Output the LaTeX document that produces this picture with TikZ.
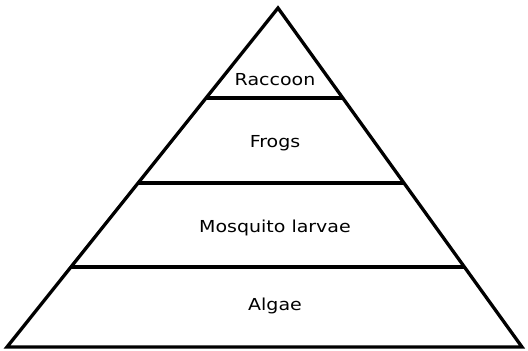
\documentclass[tikz,border=0pt]{standalone}
\usepackage{fontspec}
\setmainfont{DejaVu Sans}
\usetikzlibrary{calc}
\begin{document}
\begin{tikzpicture}[x=1pt,y=-1pt]
                    \tikzset{
                        level/.style={font=\fontsize{16.5}{19}\selectfont, inner sep=0pt, xscale=1.15, transform shape},side/.style={line width=3.3pt, line join=miter}
                    }
                    \useasboundingbox (0,0) rectangle (528,351);

                    \coordinate (apex) at (278,8);
                    \coordinate (left) at (7,347);
                    \coordinate (right) at (522,347);
                    \draw[side] (left) -- (apex) -- (right) -- cycle;
                    \foreach \n/\t in {%
                        1/0.2655, 2/0.516, 3/0.764%
                    }{
                    \coordinate (l\n) at ($(apex)!\t!(left)$);
                    \coordinate (r\n) at ($(apex)!\t!(right)$);
                    \draw[side] (l\n) -- (r\n);
                    }
                    \draw node[level] (raccoon) at (275,80) {Raccoon};
                    \draw node[level] (frogs) at (275,143) {Frogs};
                    \draw node[level] (larvae) at (275,228) {Mosquito larvae};
                    \draw node[level] (algae) at (275,306) {Algae};
                    \end{tikzpicture}
\end{document}
